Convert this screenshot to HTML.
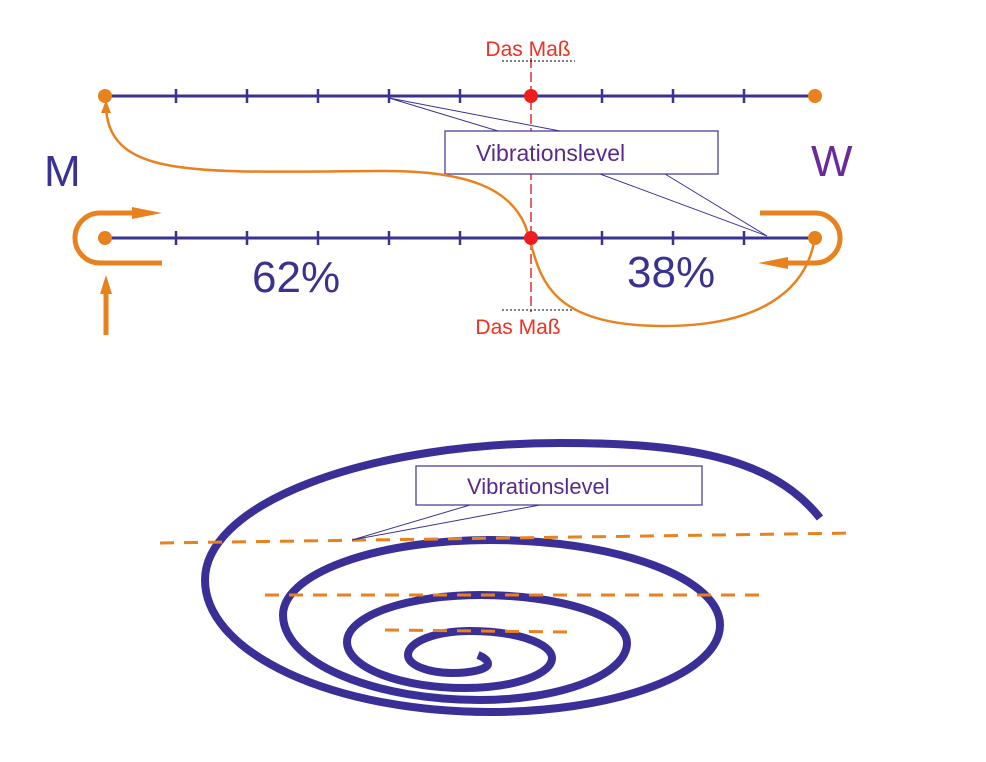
<!DOCTYPE html>
<html><head><style>body{margin:0;background:#fff}svg{display:block}</style></head><body>
<svg width="986" height="762" viewBox="0 0 986 762" xmlns="http://www.w3.org/2000/svg" font-family="Liberation Sans, Arial, sans-serif">
<!-- lines -->
<g stroke="#3a3290" stroke-width="3">
<line x1="105" y1="96" x2="815" y2="96"/>
<line x1="105" y1="238" x2="815" y2="238"/>
</g>
<g stroke="#3a3290" stroke-width="2.5">
<path d="M176 89v14M247 89v14M318 89v14M389 89v14M460 89v14M602 89v14M673 89v14M744 89v14"/>
<path d="M176 231v14M247 231v14M318 231v14M389 231v14M460 231v14M602 231v14M673 231v14M744 231v14"/>
</g>
<line x1="531" y1="58" x2="531" y2="312" stroke="#e03030" stroke-width="1.5" stroke-dasharray="10 4"/>
<line x1="502" y1="61" x2="575" y2="61" stroke="#000" stroke-width="1" stroke-dasharray="2 2"/>
<line x1="502" y1="310" x2="575" y2="310" stroke="#000" stroke-width="1" stroke-dasharray="2 2"/>
<text x="528" y="56" fill="#f03020" font-size="21" text-anchor="middle">Das Maß</text>
<text x="518" y="334" fill="#f03020" font-size="21" text-anchor="middle">Das Maß</text>
<!-- callout -->
<g stroke="#3a3290" stroke-width="1" fill="none">
<path d="M389 98 L498 131 M389 98 L560 131 M600 174 L767 236 M665 174 L767 236"/>
</g>
<rect x="445" y="131" width="273" height="43" fill="#fff" stroke="#3a3290" stroke-width="1.2"/>
<text x="476" y="161" fill="#5a2a8a" font-size="23">Vibrationslevel</text>
<!-- orange curve -->
<path d="M106 106 C108 180 200 172 380 171 C470 170 510 190 525 225 C540 265 535 325 660 326 C760 327 805 290 814 242" fill="none" stroke="#e8821e" stroke-width="2.5"/>
<path d="M106 100 L101 113 L111 113 z" fill="#e8821e"/>
<!-- dots -->
<circle cx="105" cy="96" r="7" fill="#e8821e"/>
<circle cx="815" cy="96" r="7" fill="#e8821e"/>
<circle cx="105" cy="238" r="7" fill="#e8821e"/>
<circle cx="815" cy="238" r="7" fill="#e8821e"/>
<circle cx="531" cy="96" r="7" fill="#ee1c1c"/>
<circle cx="531" cy="238" r="7" fill="#ee1c1c"/>
<!-- U-turns -->
<path d="M145 213 L100 213 A25 25 0 0 0 100 263 L162 263" fill="none" stroke="#e8821e" stroke-width="5"/>
<path d="M132 207 L162 213 L132 219 z" fill="#e8821e"/>
<line x1="106" y1="335" x2="106" y2="292" stroke="#e8821e" stroke-width="5"/>
<path d="M100 294 L106 275 L112 294 z" fill="#e8821e"/>
<path d="M760 213 L815 213 A25 25 0 0 1 815 263 L780 263" fill="none" stroke="#e8821e" stroke-width="5"/>
<path d="M788 257 L758 263 L788 269 z" fill="#e8821e"/>
<!-- labels -->
<text x="44" y="186" fill="#3a3290" font-size="44">M</text>
<text x="811" y="176" fill="#6a2a9a" font-size="44">W</text>
<text x="252" y="292" fill="#3a3290" font-size="44">62%</text>
<text x="627" y="287" fill="#3a3290" font-size="44">38%</text>
<!-- spiral -->
<path d="M820 518 C770 455 680 443 560 443 A355 137 0 0 0 205 580 A285 132 0 0 0 490 712 A230 87 0 0 0 720 625 A230 85 0 0 0 490 540 A207 75 0 0 0 283 615 A197 85 0 0 0 480 700 A147 57 0 0 0 627 643 A147 48 0 0 0 480 595 A133 47 0 0 0 347 642 A118 46 0 0 0 465 688 A87 30 0 0 0 552 658 A82 27 0 0 0 470 631 A62 24 0 0 0 408 655 A44 18 0 0 0 452 673 A36 9 0 0 0 488 664 C488 660 483 657 478 655" fill="none" stroke="#3a2f96" stroke-width="8"/>
<g stroke="#e8821e" stroke-width="3" stroke-dasharray="14 10">
<line x1="160" y1="543" x2="855" y2="533"/>
<line x1="265" y1="595" x2="760" y2="595"/>
<line x1="385" y1="630" x2="570" y2="632"/>
</g>
<path d="M470 505 L352 540 M540 505 L352 540" stroke="#3a3290" stroke-width="1" fill="none"/>
<rect x="416" y="466" width="286" height="39" fill="#fff" stroke="#3a3290" stroke-width="1.2"/>
<text x="467" y="494" fill="#5a2a8a" font-size="22">Vibrationslevel</text>
</svg>
</body></html>
